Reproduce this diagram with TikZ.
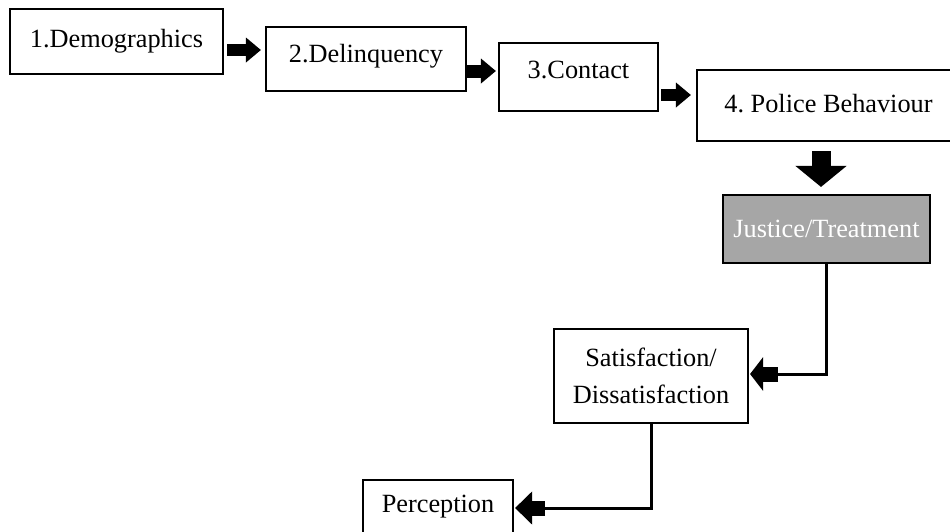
\documentclass[tikz,border=0pt]{standalone}
\usepackage{fontspec}
\setmainfont{Liberation Serif}
\usetikzlibrary{arrows.meta}
\definecolor{boxgray}{HTML}{A6A6A6}
\newcommand{\rz}[2]{\raisebox{#1}[\height][\depth]{#2}}
\frenchspacing
\begin{document}
\begin{tikzpicture}[x=1pt,y=-1pt,
  box/.style={draw=black, line width=2.1pt, fill=white, inner sep=0pt, align=center,
    font=\fontsize{26.3}{37}\selectfont},
  conn/.style={line width=3pt, line join=miter},
  fatarrow/.style={line width=12pt, -{Triangle[width=24pt,length=15pt]}},
]
\useasboundingbox (0,0) rectangle (950,531);
\fill[white] (0,0) rectangle (950,531);

\node[box, minimum width=213pt, minimum height=65pt] (n1) at (116.5,41.5) {1.Demographics};
\node[box, minimum width=200pt, minimum height=64pt] (n2) at (366,59) {\rz{3pt}{2.Delinquency}};
\node[box, minimum width=159pt, minimum height=68pt] (n3) at (578.5,77) {\rz{7pt}{3.Contact}};
\node[box, minimum width=263pt, minimum height=71pt] (n4) at (828.5,105.5) {\rz{2pt}{4. Police Behaviour}};
\node[box, fill=boxgray, text=white, minimum width=207pt, minimum height=68pt] (just) at (826.5,229) {Justice/Treatment};
\node[box, minimum width=194pt, minimum height=94pt] (sat) at (651,376) {Satisfaction/\\Dissatisfaction};
\node[box, minimum width=150pt, minimum height=54pt] (perc) at (438,507) {Perception};

% horizontal block arrows
\draw[fatarrow, shorten <=3pt, shorten >=4pt] (n1.east |- 0,50) -- (n2.west |- 0,50);
\draw[fatarrow, line width=13pt, -{Triangle[width=24pt,length=15pt]}, shorten >=2pt] (n2.east |- 0,71) -- (n3.west |- 0,71);
\draw[fatarrow, shorten <=2pt, shorten >=5pt] (n3.east |- 0,95) -- (n4.west |- 0,95);

% downward block arrow
\draw[line width=19pt, -{Triangle[width=50pt,length=21pt]}, shorten <=9pt, shorten >=7pt]
  (n4.south -| 821,0) -- (just.north -| 821,0);

% elbow connectors
\coordinate (c1) at (778,374);
\draw[conn] (just.south) |- (c1);
\draw[line width=15pt, -{Triangle[width=33pt,length=13pt]}, shorten >=1pt] (c1) -- (sat.east |- c1);

\coordinate (c2) at (545,508);
\draw[conn] (sat.south) |- (c2);
\draw[line width=15pt, -{Triangle[width=32pt,length=17pt]}, shorten >=1pt] (c2) -- (perc.east |- c2);
\end{tikzpicture}
\end{document}
